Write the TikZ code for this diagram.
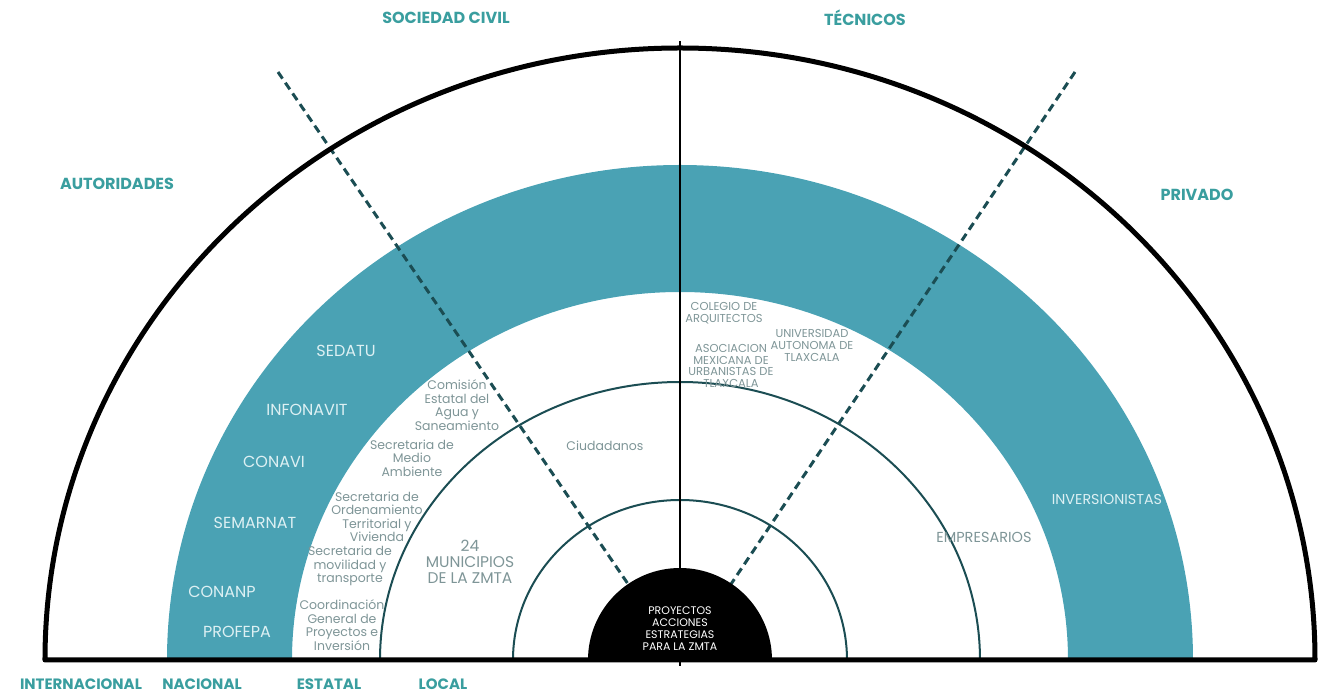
\documentclass[tikz,border=0pt]{standalone}
\usepackage{fontspec}
\setmainfont{Poppins}
\usetikzlibrary{positioning, calc}

\definecolor{banda}{HTML}{4AA2B4}
\definecolor{verde}{HTML}{3A9E9F}
\definecolor{gris}{HTML}{7E9597}
\definecolor{linea}{HTML}{1B4D53}
\definecolor{clarito}{HTML}{DDF0F3}

\begin{document}
\begin{tikzpicture}[
        x=1pt, y=1pt,
        etiqueta/.style={
          font=\fontsize{12.5}{13.5}\selectfont,
          text=gris,
          align=center,
          inner sep=0pt
        },
        enbanda/.style={
          font=\fontsize{16}{18}\selectfont,
          text=clarito,
          inner sep=0pt
        },
        actor/.style={
          font=\bfseries\fontsize{16}{18}\selectfont,
          text=verde,
          inner sep=0pt
        },
        anillo/.style={draw=linea, line width=2pt},
        division/.style={draw=linea, line width=3pt, dash pattern=on 8pt off 5pt}
      ]

      \useasboundingbox (-680,-36) rectangle (640,660);

      % Anillos
      \fill[banda] (-513,0) arc[start angle=180, end angle=0, x radius=513, y radius=495]
        -- (388,0) arc[start angle=0, end angle=180, x radius=388, y radius=368] -- cycle;
      \draw[anillo] (-300,0) arc[start angle=180, end angle=0, x radius=300, y radius=278];
      \draw[anillo] (-167,0) arc[start angle=180, end angle=0, x radius=167, y radius=160];

      % Divisiones
      \coordinate (c0) at (0,0);
      \coordinate (sc) at (-402,588);
      \coordinate (tc) at (395,588);
      \draw[division] (sc) -- ($(sc)!0.96!(c0)$);
      \draw[division] (tc) -- ($(tc)!0.96!(c0)$);
      \draw[black, line width=2.5pt] (0,619) -- (0,-6);

      % Centro
      \fill[black] (-92,0) arc[start angle=180, end angle=0, x radius=92, y radius=92] -- cycle;
      \draw[black, line width=5pt, line join=round]
        (-635,0) arc[start angle=180, end angle=0, x radius=635, y radius=612] -- cycle;

      % Autoridades
      \node[enbanda] (sedatu) at (-334,309) {SEDATU};
      \node[enbanda] (infonavit) at (-373,250) {INFONAVIT};
      \node[enbanda] (conavi) at (-406,198) {CONAVI};
      \node[enbanda] (semarnat) at (-425,137) {SEMARNAT};
      \node[enbanda] (conanp) at (-458,68) {CONANP};
      \node[enbanda] (profepa) at (-443,28) {PROFEPA};

      \node[etiqueta] (ceas) at (-223,255) {Comisión\\Estatal del\\Agua y\\Saneamiento};
      \node[etiqueta] (sma) at (-268,202) {Secretaria de\\Medio\\Ambiente};
      \node[etiqueta] (sotv) at (-303,143) {Secretaria de\\Ordenamiento\\Territorial y\\Vivienda};
      \node[etiqueta] (smt) at (-330,94) {Secretaria de\\movilidad y\\transporte};
      \node[etiqueta] (cgpi) at (-338,35) {Coordinación\\General de\\Proyectos e\\Inversión};
      \node[etiqueta, font=\fontsize{15.5}{16}\selectfont] (mun) at (-210,98) {24\\MUNICIPIOS\\DE LA ZMTA};

      % Sociedad civil y tecnicos
      \node[etiqueta] (ciud) at (-75,214) {Ciudadanos};
      \node[etiqueta, font=\fontsize{11.5}{12}\selectfont] (colegio) at (44,347) {COLEGIO DE\\ARQUITECTOS};
      \node[etiqueta, font=\fontsize{11.5}{11.5}\selectfont] (amut) at (51,294) {ASOCIACION\\MEXICANA DE\\URBANISTAS DE\\TLAXCALA};
      \node[etiqueta, font=\fontsize{11.5}{12}\selectfont] (uat) at (132,315) {UNIVERSIDAD\\AUTONOMA DE\\TLAXCALA};

      % Privado
      \node[etiqueta, font=\fontsize{14.5}{16}\selectfont] (empr) at (304,123) {EMPRESARIOS};
      \node[enbanda, font=\fontsize{14.3}{16}\selectfont] (inv) at (427,160) {INVERSIONISTAS};

      \node[etiqueta, text=white, font=\fontsize{11}{12}\selectfont] (pae) at (0,31)
        {PROYECTOS\\ACCIONES\\ESTRATEGIAS\\PARA LA ZMTA};

      % Sectores
      \node[actor] (sociedad) at (-234,642) {SOCIEDAD CIVIL};
      \node[actor] (tecnicos) at (185,642) {TÉCNICOS};
      \node[actor] (autoridades) at (-563,476) {AUTORIDADES};
      \node[actor] (privado) at (517,465) {PRIVADO};

      % Escalas
      \node[actor, font=\bfseries\fontsize{15}{16}\selectfont] (internacional) at (-599,-24) {INTERNACIONAL};
      \node[actor, font=\bfseries\fontsize{15}{16}\selectfont] (nacional) at (-478,-24) {NACIONAL};
      \node[actor, font=\bfseries\fontsize{15}{16}\selectfont] (estatal) at (-351,-24) {ESTATAL};
      \node[actor, font=\bfseries\fontsize{15}{16}\selectfont] (local) at (-237,-24) {LOCAL};

    \end{tikzpicture}
\end{document}
